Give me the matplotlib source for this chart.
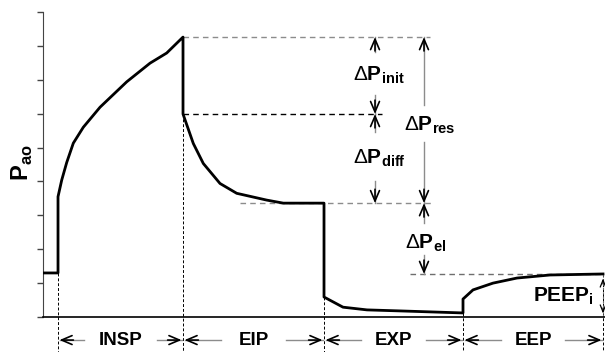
import matplotlib
matplotlib.use("Agg")
import matplotlib.pyplot as plt

plt.rcParams['font.family'] = ['Liberation Sans', 'DejaVu Sans']
plt.rcParams['mathtext.fontset'] = 'custom'
plt.rcParams['mathtext.rm'] = 'Liberation Sans'
plt.rcParams['mathtext.bf'] = 'Liberation Sans:bold'

# airway pressure trace, one breath (time, pressure) in arbitrary units
t_pre = [0.0, 1.5]
p_pre = [1.30, 1.30]
t_insp = [1.5, 1.5, 1.87, 2.37, 3.03, 4.03, 5.7, 8.37, 10.7, 12.37, 14.0]
p_insp = [1.30, 3.55, 4.04, 4.56, 5.13, 5.60, 6.19, 6.94, 7.49, 7.79, 8.26]
t_eip = [14.0, 14.0, 15.03, 16.03, 17.7, 19.37, 22.37, 24.03, 28.1]
p_eip = [8.26, 5.99, 5.12, 4.53, 3.94, 3.65, 3.45, 3.36, 3.36]
t_exp = [28.1, 28.1, 30.0, 32.4, 35.7, 42.0]
p_exp = [3.36, 0.59, 0.29, 0.21, 0.18, 0.12]
t_eep = [42.0, 42.0, 43.0, 45.0, 47.4, 50.7, 56.0]
p_eep = [0.12, 0.53, 0.80, 1.00, 1.15, 1.24, 1.27]

# phase boundaries and names
bounds = [1.5, 14.0, 28.1, 42.0, 56.0]
phases = ['INSP', 'EIP', 'EXP', 'EEP']

# characteristic pressure levels
p_peak = 8.26
p_init = 5.99
p_plat = 3.36
p_peepi = 1.27

fig = plt.figure(figsize=(6.05, 3.52), dpi=100)
ax = fig.add_axes([0.0711, 0.0994, 0.9289, 0.8665])
ax.set_xlim(0, 56.2)
ax.set_ylim(0, 9)

t_all = t_pre + t_insp[1:] + t_eip[1:] + t_exp[1:] + t_eep[1:]
p_all = p_pre + p_insp[1:] + p_eip[1:] + p_exp[1:] + p_eep[1:]
ax.plot(t_all, p_all, color='black', lw=2.0, solid_joinstyle='round', zorder=5)

# horizontal reference levels
ax.plot([14.0, 38.7], [p_peak, p_peak], ls=(0, (4, 3)), color='#8c8c8c', lw=1.0)
ax.plot([14.0, 33.9], [p_init, p_init], ls=(0, (4, 3)), color='black', lw=1.0)
ax.plot([19.7, 39.0], [p_plat, p_plat], ls=(0, (4, 3)), color='#8c8c8c', lw=1.0)
ax.plot([36.7, 56.2], [p_peepi, p_peepi], ls=(0, (4, 3)), color='#6e6e6e', lw=1.0)

# vertical phase markers, from the trace down past the axis
starts = [p_pre[-1], p_init, p_exp[1], p_exp[-1], p_peepi]
for b, s in zip(bounds, starts):
    ax.plot([b, b], [s, -1.05], ls=(0, (3, 2)), color='black', lw=0.7,
            clip_on=False)

head = '->,head_length=0.75,head_width=0.32'


def arrow(x, y0, y1):
    # grey shaft with a black open head at y1
    ax.plot([x, x], [y0, y1], color='#8c8c8c', lw=1.0, clip_on=False)
    sign = 1 if y1 > y0 else -1
    ax.annotate('', xy=(x, y1), xytext=(0, -10 * sign), textcoords='offset points',
                arrowprops=dict(arrowstyle=head, color='black', lw=1.2,
                                shrinkA=0, shrinkB=0),
                annotation_clip=False)


def harrow(x0, x1, y):
    ax.plot([x0, x1], [y, y], color='#8c8c8c', lw=1.0, clip_on=False)
    sign = 1 if x1 > x0 else -1
    ax.annotate('', xy=(x1, y), xytext=(-10 * sign, 0), textcoords='offset points',
                arrowprops=dict(arrowstyle=head, color='black', lw=1.2,
                                shrinkA=0, shrinkB=0),
                annotation_clip=False)


fs = 15
# delta P annotations
arrow(33.2, 7.82, p_peak)
arrow(33.2, 6.55, p_init)
ax.text(33.6, 7.14, r'$\Delta\mathbf{P}_{\mathbf{init}}$', fontsize=fs,
        ha='center', va='center')
arrow(33.2, 5.46, p_init)
arrow(33.2, 4.0, p_plat)
ax.text(33.6, 4.69, r'$\Delta\mathbf{P}_{\mathbf{diff}}$', fontsize=fs,
        ha='center', va='center')
arrow(38.1, 6.25, p_peak)
arrow(38.1, 5.16, p_plat)
ax.text(38.7, 5.66, r'$\Delta\mathbf{P}_{\mathbf{res}}$', fontsize=fs,
        ha='center', va='center')
arrow(38.1, 2.77, p_plat)
arrow(38.1, 1.83, p_peepi)
ax.text(38.3, 2.18, r'$\Delta\mathbf{P}_{\mathbf{el}}$', fontsize=fs,
        ha='center', va='center')

# intrinsic PEEP
ax.plot([56.0, 56.0], [p_peepi, 0], ls=(0, (2, 2)), color='#6e6e6e', lw=0.8,
        clip_on=False)
ax.annotate('', xy=(56.0, 0.02), xytext=(0, 8), textcoords='offset points',
            arrowprops=dict(arrowstyle='->,head_length=0.5,head_width=0.2',
                            color='black', lw=0.9), annotation_clip=False)
ax.annotate('', xy=(56.0, p_peepi - 0.05), xytext=(0, -8), textcoords='offset points',
            arrowprops=dict(arrowstyle='->,head_length=0.5,head_width=0.2',
                            color='black', lw=0.9), annotation_clip=False)
ax.text(52.0, 0.62, r'$\mathbf{PEEP}_{\mathbf{i}}$', fontsize=fs,
        ha='center', va='center')

# phase labels below the axis
y_lab = -0.68
for i, name in enumerate(phases):
    a, b = bounds[i], bounds[i + 1]
    mid = (a + b) / 2
    ax.text(mid, y_lab, name, fontsize=13.5, fontweight='bold', ha='center',
            va='center')
    half = 0.9 + 0.38 * len(name) + 1.2
    harrow(mid - half, a + 0.15, y_lab)
    harrow(mid + half, b - 0.15, y_lab)

fig.text(22 / 605, 1 - 163 / 352, r'$\mathbf{P}_{\mathbf{ao}}$', fontsize=17,
         rotation=90, ha='center', va='center')

ax.set_xticks([])
ax.set_yticks(range(0, 10))
ax.set_yticklabels([])
ax.tick_params(axis='y', length=4, width=1.0, color='#444444', direction='out')
ax.spines['top'].set_visible(False)
ax.spines['right'].set_visible(False)
ax.spines['left'].set_color('#444444')
ax.spines['bottom'].set_linewidth(1.2)

fig.savefig('out.png', dpi=100)
